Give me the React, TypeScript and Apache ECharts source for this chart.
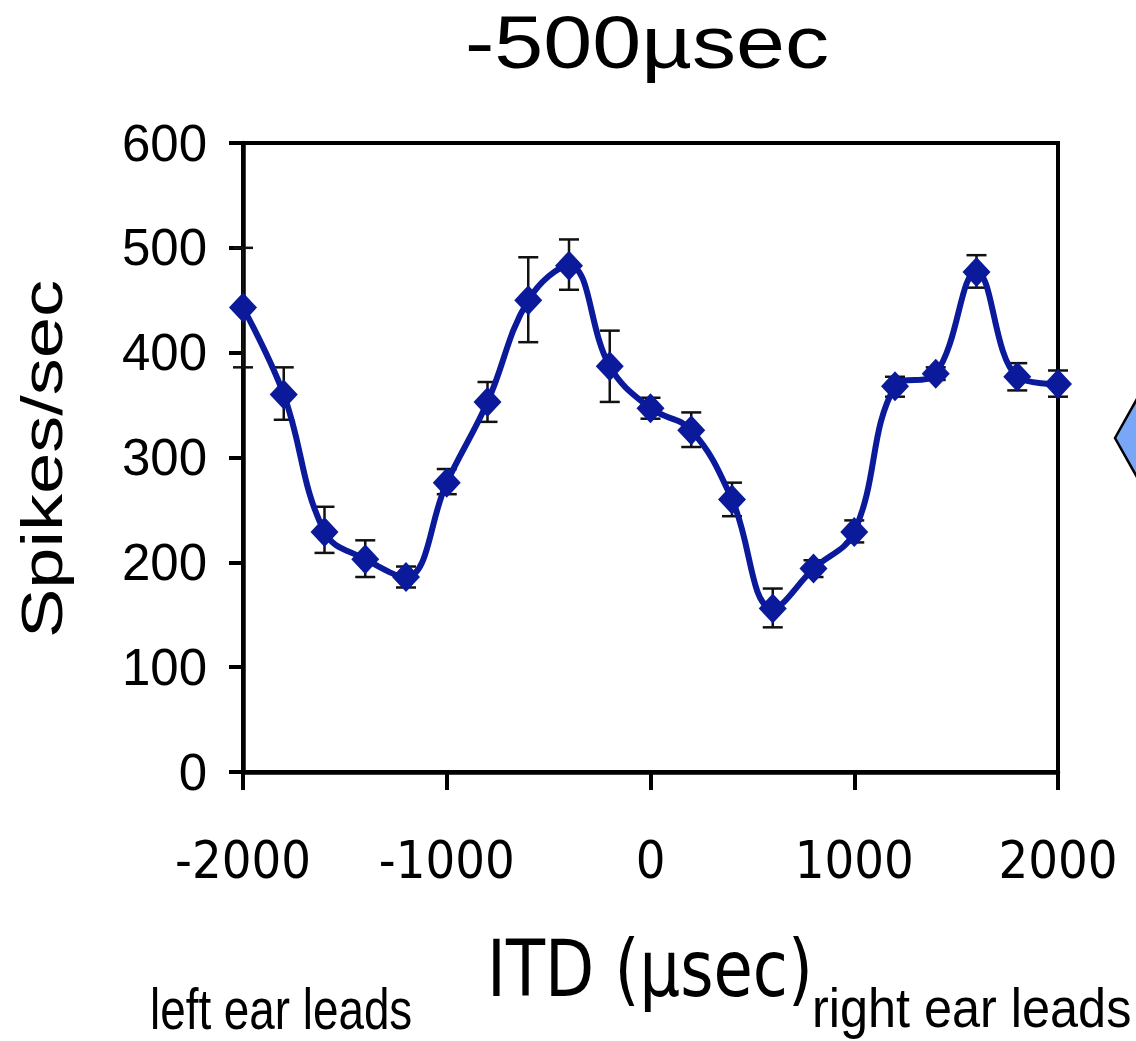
import React, { useEffect, useRef } from "react";
import * as echarts from "echarts";

const itd = [-2000, -1800, -1600, -1400, -1200, -1000, -800, -600, -400, -200, 0, 200, 400, 600, 800, 1000, 1200, 1400, 1600, 1800, 2000];
const spikes = [443, 360, 229, 203, 186, 276, 353, 450, 483, 387, 347, 326, 260, 156, 194, 229, 368, 380, 477, 377, 370];
const errHigh = [500, 386, 253, 221, 196, 289, 372, 491, 508, 421, 357, 343, 276, 175, 202, 240, 377, 386, 493, 390, 383];
const errLow = [386, 336, 209, 186, 176, 265, 334, 410, 460, 353, 337, 310, 244, 138, 186, 219, 358, 374, 462, 364, 358];

const titleText = "-500µsec";
const yTitle = "Spikes/sec";
const xTitle = "ITD (µsec)";
const leftNote = "left ear leads";
const rightNote = "right ear leads";

const LINE_COLOR = "#0a1a9a";

export default function App() {
  const ref = useRef<HTMLDivElement>(null);
  useEffect(() => {
    if (!ref.current) return;
    const chart = echarts.init(ref.current, null, { renderer: "svg" });
    const errData = itd.map((x, i) => [x, errLow[i], errHigh[i]]);
    const lineData = itd.map((x, i) => [x, spikes[i]]);
    chart.setOption({
      animation: false,
      backgroundColor: "#ffffff",
      grid: {
        left: 243,
        right: 78,
        top: 143,
        bottom: 269,
        show: true,
        borderColor: "#000",
        borderWidth: 4,
      },
      xAxis: {
        type: "value",
        min: -2000,
        max: 2000,
        interval: 1000,
        splitLine: { show: false },
        axisLine: { show: true, onZero: false, lineStyle: { color: "#000", width: 4.5 } },
        axisTick: { show: true, inside: false, length: 18, lineStyle: { color: "#000", width: 4 } },
        axisLabel: {
          margin: 62,
          color: "#000",
          fontSize: 52,
          fontFamily: "'DejaVu Sans Condensed', 'DejaVu Sans', sans-serif",
          formatter: (v: number) => String(v),
        },
      },
      yAxis: {
        type: "value",
        min: 0,
        max: 600,
        interval: 100,
        splitLine: { show: false },
        axisLine: { show: true, onZero: false, lineStyle: { color: "#000", width: 4.5 } },
        axisTick: { show: true, inside: false, length: 14, lineStyle: { color: "#000", width: 4 } },
        axisLabel: {
          margin: 36,
          color: "#000",
          fontSize: 51,
          fontFamily: "'Liberation Sans', Arial, sans-serif",
        },
      },
      series: [
        {
          type: "custom",
          clip: false,
          z: 2,
          data: errData,
          renderItem: (params: any, api: any) => {
            const x = api.value(0);
            const lo = api.coord([x, api.value(1)]);
            const hi = api.coord([x, api.value(2)]);
            const w = 10;
            const st = { stroke: "#111", lineWidth: 2.5 };
            return {
              type: "group",
              children: [
                { type: "line", shape: { x1: lo[0], y1: lo[1], x2: hi[0], y2: hi[1] }, style: st },
                { type: "line", shape: { x1: lo[0] - w, y1: lo[1], x2: lo[0] + w, y2: lo[1] }, style: st },
                { type: "line", shape: { x1: hi[0] - w, y1: hi[1], x2: hi[0] + w, y2: hi[1] }, style: st },
              ],
            };
          },
        },
        {
          type: "line",
          clip: false,
          z: 3,
          data: lineData,
          smooth: 0.4,
          symbol: "diamond",
          symbolSize: [28, 30],
          lineStyle: { color: LINE_COLOR, width: 6 },
          itemStyle: { color: LINE_COLOR },
        },
      ],
      graphic: [
        {
          type: "text",
          x: 647,
          y: 42,
          scaleX: 1.19,
          style: {
            text: titleText,
            fontSize: 74,
            fontFamily: "'Liberation Sans', Arial, sans-serif",
            fill: "#000",
            textAlign: "center",
            textVerticalAlign: "middle",
          },
        },
        {
          type: "text",
          x: 42,
          y: 459,
          rotation: Math.PI / 2,
          scaleX: 1.3,
          style: {
            text: yTitle,
            fontSize: 57,
            fontFamily: "'Liberation Sans', Arial, sans-serif",
            fill: "#000",
            textAlign: "center",
            textVerticalAlign: "middle",
          },
        },
        {
          type: "text",
          x: 650,
          y: 969,
          scaleX: 0.82,
          style: {
            text: xTitle,
            fontSize: 78,
            fontFamily: "'DejaVu Sans', sans-serif",
            fill: "#000",
            textAlign: "center",
            textVerticalAlign: "middle",
          },
        },
        {
          type: "text",
          x: 150,
          y: 1009,
          scaleX: 0.79,
          style: {
            text: leftNote,
            fontSize: 58,
            fontFamily: "'Liberation Sans', Arial, sans-serif",
            fill: "#000",
            textAlign: "left",
            textVerticalAlign: "middle",
          },
        },
        {
          type: "text",
          x: 812,
          y: 1008,
          scaleX: 0.9,
          style: {
            text: rightNote,
            fontSize: 56,
            fontFamily: "'Liberation Sans', Arial, sans-serif",
            fill: "#000",
            textAlign: "left",
            textVerticalAlign: "middle",
          },
        },
        {
          type: "polygon",
          shape: { points: [[1115, 438], [1160, 358], [1205, 438], [1160, 518]] },
          style: { fill: "#79a6f6", stroke: "#000", lineWidth: 2.5 },
        },
      ],
    });
    return () => chart.dispose();
  }, []);
  return <div ref={ref} style={{ width: 1136, height: 1041, position: "absolute", left: 0, top: 0 }} />;
}
